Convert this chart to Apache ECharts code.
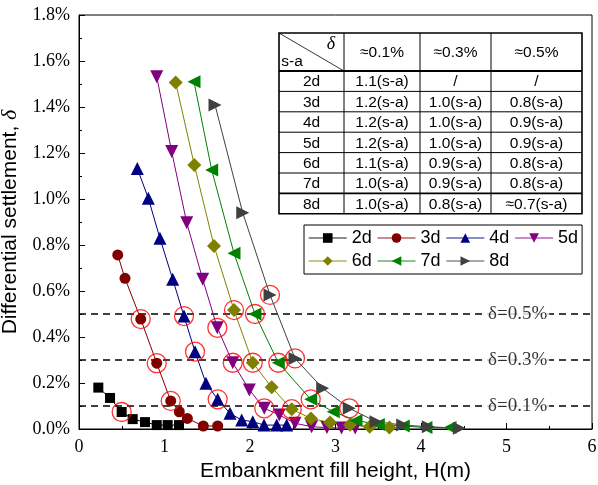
<!DOCTYPE html>
<html>
<head>
<meta charset="UTF-8">
<title>Differential settlement vs fill height</title>
<script src="https://cdn.jsdelivr.net/npm/echarts@6/dist/echarts.min.js"></script>
</head>
<body style="margin:0;padding:0;">
<div id="container" style="width:598px;height:485px;"></div>
<script>
// fill height H (m) and differential settlement (%) for each s-a spacing
var names = ['2d', '3d', '4d', '5d', '6d', '7d', '8d'];

var x2d = [0.226, 0.363, 0.499, 0.628, 0.772, 0.909, 1.037, 1.170];
var y2d = [0.180, 0.135, 0.074, 0.043, 0.030, 0.017, 0.017, 0.017];

var x3d = [0.453, 0.538, 0.722, 0.909, 1.073, 1.173, 1.267, 1.454, 1.622];
var y3d = [0.757, 0.655, 0.478, 0.286, 0.122, 0.075, 0.046, 0.013, 0.013];

var x4d = [0.682, 0.811, 0.947, 1.096, 1.228, 1.357, 1.485, 1.622, 1.766, 1.903, 2.032, 2.164, 2.312, 2.429];
var y4d = [1.133, 1.003, 0.829, 0.651, 0.491, 0.336, 0.199, 0.129, 0.068, 0.039, 0.032, 0.017, 0.017, 0.017];

var x5d = [0.909, 1.084, 1.260, 1.447, 1.618, 1.798, 1.992, 2.167, 2.343, 2.526, 2.72, 2.90, 3.07, 3.23];
var y5d = [1.532, 1.206, 0.897, 0.651, 0.440, 0.288, 0.170, 0.090, 0.061, 0.025, 0.010, 0.006, 0.004, 0.004];

var x6d = [1.131, 1.349, 1.579, 1.813, 2.032, 2.254, 2.488, 2.713, 2.936, 3.17, 3.40, 3.63];
var y6d = [1.506, 1.148, 0.796, 0.517, 0.288, 0.181, 0.086, 0.046, 0.028, 0.018, 0.010, 0.006];

var x7d = [1.345, 1.552, 1.813, 2.058, 2.331, 2.710, 2.974, 3.240, 3.501, 3.793, 4.058, 4.339];
var y7d = [1.510, 1.126, 0.764, 0.500, 0.288, 0.129, 0.075, 0.037, 0.020, 0.013, 0.006, 0.006];

var x8d = [1.591, 1.915, 2.234, 2.526, 2.850, 3.161, 3.474, 3.786, 4.085, 4.448];
var y8d = [1.409, 0.940, 0.583, 0.307, 0.177, 0.090, 0.032, 0.017, 0.010, 0.003];

// indices of the points circled in red (near 0.1%, 0.3%, 0.5%)
var marked2d = [2];
var marked3d = [2, 3, 4];
var marked4d = [4, 5, 7];
var marked5d = [4, 5, 7];
var marked6d = [3, 4, 6];
var marked7d = [3, 4, 5];
var marked8d = [2, 3, 5];

var thresholds = [0.1, 0.3, 0.5];

// table in the upper right
var tableHead = ['≈0.1%', '≈0.3%', '≈0.5%'];
var tableCol1 = ['1.1(s-a)', '1.2(s-a)', '1.2(s-a)', '1.2(s-a)', '1.1(s-a)', '1.0(s-a)', '1.0(s-a)'];
var tableCol2 = ['/', '1.0(s-a)', '1.0(s-a)', '1.0(s-a)', '0.9(s-a)', '0.9(s-a)', '0.8(s-a)'];
var tableCol3 = ['/', '0.8(s-a)', '0.9(s-a)', '0.9(s-a)', '0.8(s-a)', '0.8(s-a)', '≈0.7(s-a)'];

var xs = [x2d, x3d, x4d, x5d, x6d, x7d, x8d];
var ys = [y2d, y3d, y4d, y5d, y6d, y7d, y8d];
var marks = [marked2d, marked3d, marked4d, marked5d, marked6d, marked7d, marked8d];
var colors = ['#000000', '#800000', '#000080', '#800080', '#808000', '#008000', '#404040'];
var symbols = ['rect', 'circle', 'triangle', 'triangle', 'diamond', 'triangle', 'triangle'];
var rotates = [0, 0, 0, 180, 0, 90, -90];
var sizes = [10, 11, 13, 13, 14, 13, 13];

var chart = echarts.init(document.getElementById('container'), null, {renderer: 'canvas'});

var series = [];
var circled = [];
for (var n = 0; n < names.length; n++) {
    var pts = xs[n].map(function (x, i) { return [x, ys[n][i]]; });
    series.push({
        name: names[n],
        type: 'line',
        data: pts,
        symbol: symbols[n],
        symbolSize: sizes[n],
        symbolRotate: rotates[n],
        showAllSymbol: true,
        color: colors[n],
        lineStyle: {width: 1, color: colors[n]},
        itemStyle: {color: colors[n]},
        z: 3
    });
    marks[n].forEach(function (i) { circled.push(pts[i]); });
}

// dashed threshold lines
thresholds.forEach(function (t) {
    series.push({
        type: 'line',
        data: [[0, t], [6, t]],
        symbol: 'none',
        silent: true,
        lineStyle: {color: '#000', width: 1.4, type: [7, 5]},
        z: 1
    });
});
series.push({
    type: 'scatter',
    data: thresholds.map(function (t) { return [5.13, t]; }),
    symbolSize: 1,
    itemStyle: {color: 'transparent'},
    label: {
        show: true,
        position: 'inside',
        formatter: function (p) { return 'δ=' + p.value[1].toFixed(1) + '%'; },
        fontFamily: 'Liberation Serif',
        fontSize: 19,
        color: '#000',
        backgroundColor: '#fff',
        padding: [0, 2]
    },
    z: 2
});

series.push({
    type: 'scatter',
    data: circled,
    symbol: 'circle',
    symbolSize: 19,
    itemStyle: {color: 'transparent', borderColor: '#ff0000', borderWidth: 1.3},
    z: 5
});

// table built from the arrays
var colX = [279, 344, 420, 491, 582];
var rowY = [33, 71];
for (var r = 0; r < names.length; r++) rowY.push(71 + (r + 1) * 20.4);
var tableEls = [];
tableEls.push({type: 'rect', shape: {x: colX[0], y: rowY[0], width: colX[4] - colX[0], height: rowY[8] - rowY[0]},
    style: {fill: '#fff', stroke: '#000', lineWidth: 1.6}});
for (var i = 1; i < rowY.length - 1; i++) {
    var thick = (i === 1 || i === rowY.length - 2);
    tableEls.push({type: 'line', shape: {x1: colX[0], y1: rowY[i], x2: colX[4], y2: rowY[i]},
        style: {stroke: '#000', lineWidth: thick ? 1.8 : 1}});
}
for (var j = 1; j < colX.length - 1; j++) {
    tableEls.push({type: 'line', shape: {x1: colX[j], y1: rowY[0], x2: colX[j], y2: rowY[8]},
        style: {stroke: '#000', lineWidth: 1}});
}
tableEls.push({type: 'line', shape: {x1: colX[0], y1: rowY[0], x2: colX[1], y2: rowY[1]},
    style: {stroke: '#000', lineWidth: 0.8}});
function cellText(txt, x, y, italic) {
    return {type: 'text', x: x, y: y,
        style: {text: txt, fill: '#000',
            fontSize: italic ? 18 : 15.5,
            fontFamily: italic ? 'Liberation Serif' : 'Liberation Sans',
            fontStyle: italic ? 'italic' : 'normal',
            align: 'center', verticalAlign: 'middle'}};
}
tableEls.push(cellText('δ', 331, 44, true));
tableEls.push(cellText('s-a', 292, 62));
tableHead.forEach(function (h, k) {
    tableEls.push(cellText(h, (colX[k + 1] + colX[k + 2]) / 2, (rowY[0] + rowY[1]) / 2 + 1));
});
var cols = [names, tableCol1, tableCol2, tableCol3];
for (var r2 = 0; r2 < names.length; r2++) {
    for (var c = 0; c < 4; c++) {
        tableEls.push(cellText(cols[c][r2], (colX[c] + colX[c + 1]) / 2, (rowY[r2 + 1] + rowY[r2 + 2]) / 2 + 1));
    }
}

var option = {
    animation: false,
    backgroundColor: '#fff',
    grid: {left: 79, right: 6, top: 15, bottom: 56, show: true, borderColor: '#000', borderWidth: 1,
        containLabel: false, outerBoundsMode: 'none'},
    legend: {
        data: names,
        left: 304,
        top: 225,
        width: 276,
        itemWidth: 38,
        itemHeight: 12,
        itemGap: 5,
        padding: [4, 4, 4, 4],
        borderColor: '#000',
        borderWidth: 1,
        lineStyle: {width: 1.5, opacity: 0.6},
        textStyle: {fontFamily: 'Liberation Sans', fontSize: 18, color: '#000'}
    },
    xAxis: {
        type: 'value',
        min: 0,
        max: 6,
        interval: 1,
        name: 'Embankment fill height, H(m)',
        nameLocation: 'middle',
        nameGap: 30,
        nameTextStyle: {fontFamily: 'Liberation Sans', fontSize: 21, color: '#000'},
        axisLine: {lineStyle: {color: '#000', width: 1}},
        axisTick: {inside: true, length: 6, lineStyle: {color: '#000'}},
        minorTick: {show: true, splitNumber: 2, length: 3, lineStyle: {color: '#000'}},
        splitLine: {show: false},
        axisLabel: {fontFamily: 'Liberation Serif', fontSize: 18, color: '#000', margin: 9}
    },
    yAxis: {
        type: 'value',
        min: 0,
        max: 1.8,
        interval: 0.2,
        name: 'Differential settlement, {d|δ}',
        nameLocation: 'middle',
        nameGap: 36,
        nameTextStyle: {fontFamily: 'Liberation Sans', fontSize: 21, color: '#000',
            rich: {d: {fontFamily: 'Liberation Serif', fontStyle: 'italic', fontSize: 22, color: '#000'}}},
        axisLine: {show: true, lineStyle: {color: '#000', width: 1}},
        axisTick: {show: true, inside: true, length: 6, lineStyle: {color: '#000'}},
        minorTick: {show: true, splitNumber: 2, length: 3, lineStyle: {color: '#000'}},
        splitLine: {show: false},
        axisLabel: {
            fontFamily: 'Liberation Serif', fontSize: 18, color: '#000', margin: 9,
            formatter: function (v) { return v.toFixed(1) + '%'; }
        }
    },
    graphic: {elements: tableEls},
    series: series
};
chart.setOption(option);
</script>
</body>
</html>
